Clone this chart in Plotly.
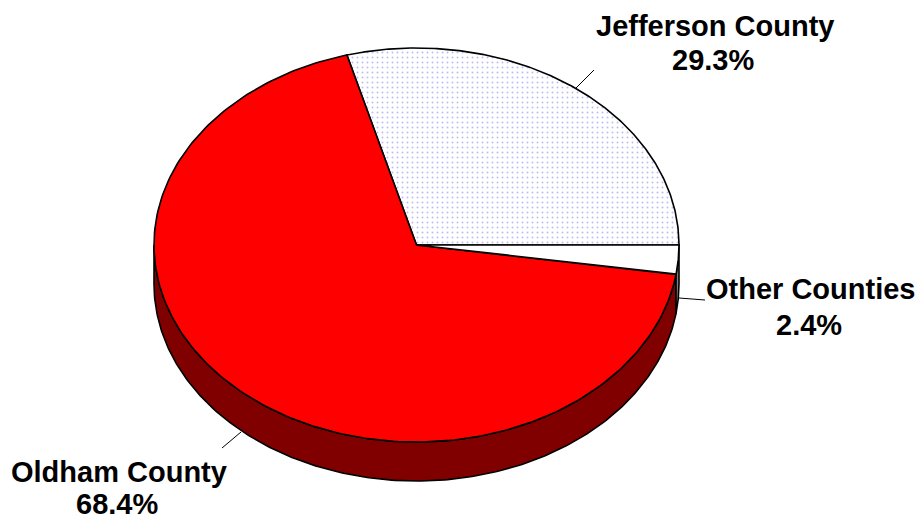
import numpy as np
import plotly.graph_objects as go

categories = ["Jefferson County", "Oldham County", "Other Counties"]
values = [29.3, 68.4, 2.4]
labels = ["29.3%", "68.4%", "2.4%"]

cx, cy, rx, ry, depth = 416.5, 245, 262.5, 197, 39
shares = np.array(values) / sum(values) * 2 * np.pi
edges = np.concatenate([[0], np.cumsum(shares)])


def arc(a0, a1, n=240):
    t = np.linspace(a0, a1, n)
    return cx + rx * np.cos(t), cy - ry * np.sin(t)


fig = go.Figure()
line = dict(color="black", width=1.6)

# side wall: the visible lower half of the rim
for a0, a1, col in [(np.pi, edges[2], "#800000"), (edges[2], 2 * np.pi, "#808080")]:
    x, y = arc(a0, a1)
    fig.add_trace(go.Scatter(x=np.r_[x, x[::-1], x[0]], y=np.r_[y, y[::-1] + depth, y[0]],
                             mode="lines", fill="toself", fillcolor=col, line=line, hoverinfo="skip"))

# top faces
tops = [
    dict(fillcolor="white", fillpattern=dict(shape=".", fgcolor="#7878f0", bgcolor="white", size=5, solidity=0.12)),
    dict(fillcolor="#ff0000"),
    dict(fillcolor="white"),
]
for i, style in enumerate(tops):
    x, y = arc(edges[i], edges[i + 1])
    fig.add_trace(go.Scatter(x=np.r_[cx, x, cx], y=np.r_[cy, y, cy], mode="lines", fill="toself",
                             line=line, hoverinfo="skip", **style))

# leader lines
for (x0, y0, x1, y1) in [(576, 88, 594, 70), (679, 298, 705, 300), (241, 432, 222, 448)]:
    fig.add_shape(type="line", x0=x0, y0=y0, x1=x1, y1=y1, line=dict(color="black", width=1))

font = dict(family="Liberation Sans", size=29, color="black")
for text, x, y in [(categories[0], 715, 26), (labels[0], 713, 60),
                   (categories[2], 810, 289), (labels[2], 809, 325),
                   (categories[1], 119, 472), (labels[1], 117, 504)]:
    fig.add_annotation(x=x, y=y, text=f"<b>{text}</b>", showarrow=False, font=font,
                       xanchor="center", yanchor="middle")

fig.update_layout(
    width=920, height=521, margin=dict(l=0, r=0, t=0, b=0), showlegend=False,
    paper_bgcolor="white", plot_bgcolor="white",
    xaxis=dict(range=[0, 920], visible=False),
    yaxis=dict(range=[521, 0], visible=False),
)
fig.write_html("out.html", config=dict(displayModeBar=False),
               post_script="document.body.style.margin='0';document.documentElement.style.overflow='hidden';")
